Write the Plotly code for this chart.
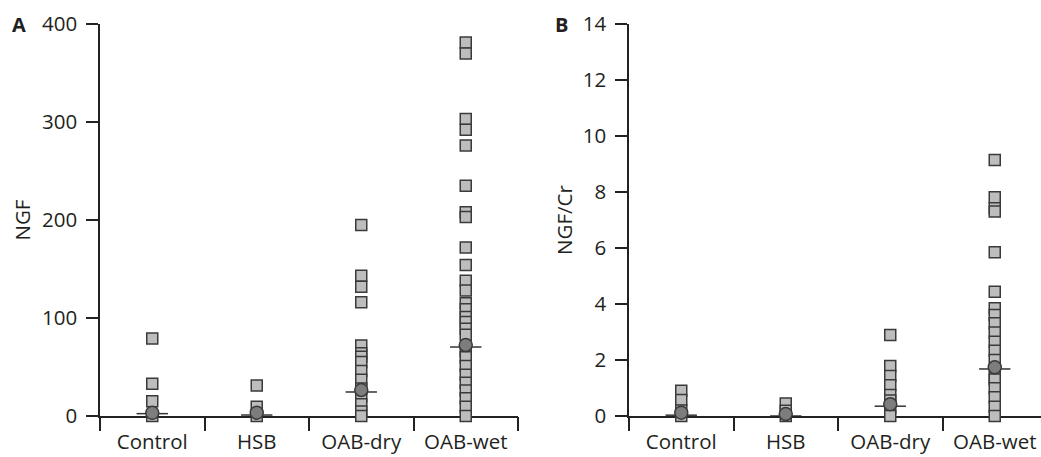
import plotly.graph_objects as go

categories = ["Control", "HSB", "OAB-dry", "OAB-wet"]

# Panel A: NGF
ngf_control = [79, 33, 15, 0]
ngf_hsb = [31, 9.5, 0]
ngf_oabdry = [195, 143, 132, 116, 72, 64, 60.5, 55, 46, 37, 28, 20, 12, 4.5, 0]
ngf_oabwet = [381, 370, 303, 292, 276, 235, 208, 203, 172, 154, 138, 128, 115, 109,
              101, 96, 89, 83, 66, 60, 51, 42, 34, 26, 18, 9.5, 0]
ngf_mean = [3.2, 3.4, 26.5, 72.4]
ngf_median = [2.4, 1.0, 24.5, 70.4]

# Panel B: NGF/Cr
ratio_control = [0.9, 0.57, 0.2, 0]
ratio_hsb = [0.45, 0.19, 0]
ratio_oabdry = [2.89, 1.79, 1.43, 1.1, 0.75, 0.55, 0.3, 0]
ratio_oabwet = [9.14, 7.81, 7.42, 7.3, 5.85, 4.44, 3.85, 3.61, 3.31, 2.98, 2.65, 2.33,
                2.0, 1.4, 1.3, 0.99, 0.67, 0.33, 0]
ratio_mean = [0.12, 0.07, 0.42, 1.74]
ratio_median = [0.03, 0.0, 0.35, 1.68]

ngf_groups = [ngf_control, ngf_hsb, ngf_oabdry, ngf_oabwet]
ratio_groups = [ratio_control, ratio_hsb, ratio_oabdry, ratio_oabwet]

FONT = "Open Sans"
FS = 20.5
TXT = "#231f20"
SQ_FILL = "#bdbdbd"
SQ_LINE = "#3a3a3a"
MEAN_FILL = "#7d7d7d"
HALF = 0.15

fig = go.Figure()

def add_panel(groups, means, medians, xa, ya):
    for i, vals in enumerate(groups):
        fig.add_trace(go.Scatter(
            x=[i] * len(vals), y=vals, mode="markers", xaxis=xa, yaxis=ya,
            marker=dict(symbol="square", size=11, color=SQ_FILL,
                        line=dict(color=SQ_LINE, width=1.5)),
            cliponaxis=False, showlegend=False, hoverinfo="y"))
    for i, m in enumerate(medians):
        fig.add_trace(go.Scatter(
            x=[i - HALF, i + HALF], y=[m, m], mode="lines", xaxis=xa, yaxis=ya,
            line=dict(color="#333333", width=1.5), cliponaxis=False,
            showlegend=False, hoverinfo="skip"))
    fig.add_trace(go.Scatter(
        x=list(range(len(means))), y=means, mode="markers", xaxis=xa, yaxis=ya,
        marker=dict(symbol="circle", size=13, color=MEAN_FILL,
                    line=dict(color="#3a3a3a", width=1.5)),
        cliponaxis=False, showlegend=False, hoverinfo="y"))

add_panel(ngf_groups, ngf_mean, ngf_median, "x", "y")
add_panel(ratio_groups, ratio_mean, ratio_median, "x2", "y2")

W, H = 1041, 457
ydom = [(H - 416) / H, (H - 24) / H]
xdomA = [100 / W, 518 / W]
xdomB = [629 / W, 1.0]
rangeA = [-0.5, 3.5]
rangeB = [-0.5, -0.5 + (W - 629) / 104.5]

label_axis = dict(
    tickmode="array", tickvals=list(range(4)), ticktext=categories,
    ticks="", showline=True, linecolor="#222222", linewidth=1.5,
    showgrid=False, zeroline=False, ticklabelstandoff=7, automargin=False,
    tickfont=dict(family=FONT, size=FS, color=TXT), layer="below traces")
bound_axis = dict(
    tickmode="array", tickvals=[-0.5, 0.5, 1.5, 2.5, 3.5],
    showticklabels=False, ticks="outside", ticklen=14, tickwidth=1.5,
    tickcolor="#222222", showline=False, showgrid=False, zeroline=False,
    automargin=False, layer="below traces")
yax = dict(
    showline=True, linecolor="#222222", linewidth=1.5, ticks="outside",
    ticklen=12, tickwidth=1.5, tickcolor="#222222", showgrid=False,
    zeroline=False, domain=ydom, layer="below traces", automargin=False,
    ticklabelstandoff=5, tickfont=dict(family=FONT, size=FS, color=TXT))

fig.update_layout(
    width=W, height=H, margin=dict(l=0, r=0, t=0, b=0, autoexpand=False),
    paper_bgcolor="white", plot_bgcolor="white",
    font=dict(family=FONT, color=TXT),
    xaxis=dict(domain=xdomA, range=rangeA, anchor="y", **label_axis),
    xaxis2=dict(domain=xdomB, range=rangeB, anchor="y2", **label_axis),
    xaxis3=dict(overlaying="x", range=rangeA, anchor="y", **bound_axis),
    xaxis4=dict(overlaying="x2", range=rangeB, anchor="y2", **bound_axis),
    yaxis=dict(anchor="x", range=[0, 400], tickvals=[0, 100, 200, 300, 400],
               title=dict(text="NGF", standoff=6,
                          font=dict(family=FONT, size=FS, color=TXT)), **yax),
    yaxis2=dict(anchor="x2", range=[0, 14], tickvals=list(range(0, 15, 2)),
                title=dict(text="NGF/Cr", standoff=5,
                           font=dict(family=FONT, size=FS, color=TXT)), **yax),
    annotations=[
        dict(text="<b>A</b>", x=19 / W, y=(H - 25) / H, xref="paper", yref="paper",
             xanchor="center", yanchor="middle",
             showarrow=False, font=dict(family=FONT, size=20, color=TXT)),
        dict(text="<b>B</b>", x=561 / W, y=(H - 25) / H, xref="paper", yref="paper",
             xanchor="center", yanchor="middle",
             showarrow=False, font=dict(family=FONT, size=20, color=TXT)),
    ],
)

# dummy traces so overlay axes render
fig.add_trace(go.Scatter(x=[None], y=[None], xaxis="x3", yaxis="y", showlegend=False))
fig.add_trace(go.Scatter(x=[None], y=[None], xaxis="x4", yaxis="y2", showlegend=False))

fig.write_html("out.html")
